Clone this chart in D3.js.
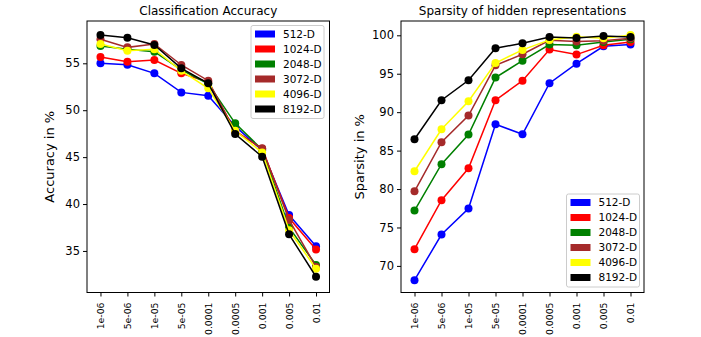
<!DOCTYPE html>
<html><head><meta charset="utf-8">
<script src="https://cdn.jsdelivr.net/npm/d3@7"></script>
<style>body{margin:0;background:#fff}svg{display:block;font-family:"DejaVu Sans",sans-serif}</style>
</head><body><svg id="c" width="701" height="337"></svg>
<script>
const categories = ["1e-06","5e-06","1e-05","5e-05","0.0001","0.0005","0.001","0.005","0.01"];
const seriesNames = ["512-D","1024-D","2048-D","3072-D","4096-D","8192-D"];
const seriesColors = ["blue","red","green","brown","yellow","black"];
const accTicks = [35,40,45,50,55];
const spTicks = [70,75,80,85,90,95,100];

const acc512  = [55.0, 54.85, 53.93, 51.9, 51.55, 48.3, 45.7, 38.83, 35.5];
const acc1024 = [55.67, 55.17, 55.35, 53.93, 53.0, 47.8, 45.9, 38.5, 35.15];
const acc2048 = [56.84, 56.5, 56.24, 54.3, 52.8, 48.6, 45.8, 37.5, 33.5];
const acc3072 = [57.56, 56.7, 57.06, 54.82, 53.15, 47.7, 45.95, 38.3, 33.3];
const acc4096 = [57.06, 56.35, 56.5, 54.2, 52.33, 47.8, 45.5, 37.2, 33.1];
const acc8192 = [58.02, 57.73, 56.95, 54.47, 52.87, 47.46, 45.04, 36.77, 32.25];

const sp512  = [68.14, 74.08, 77.46, 88.43, 87.13, 93.76, 96.3, 98.57, 98.79];
const sp1024 = [72.17, 78.54, 82.7, 91.55, 94.1, 98.14, 97.49, 98.7, 99.13];
const sp2048 = [77.2, 83.23, 87.08, 94.5, 96.7, 98.8, 98.7, 99.13, 99.5];
const sp3072 = [79.71, 86.09, 89.56, 96.1, 97.53, 99.35, 99.2, 99.3, 99.6];
const sp4096 = [82.31, 87.78, 91.42, 96.4, 98.1, 99.4, 99.8, 99.6, 100.04];
const sp8192 = [86.48, 91.55, 94.15, 98.31, 98.96, 99.78, 99.65, 99.91, 99.78];

const accData = [acc512, acc1024, acc2048, acc3072, acc4096, acc8192];
const spData  = [sp512, sp1024, sp2048, sp3072, sp4096, sp8192];

const svg = d3.select("#c");

function panel(opt) {
  const {x0, x1, y0, y1, domain, ticks, data, title, ylabel, ylabX, legend} = opt;
  const g = svg.append("g");
  const x = d3.scalePoint().domain(categories).range([x0, x1]).padding(0.5);
  const y = d3.scaleLinear().domain(domain).range([y1, y0]);

  data.forEach((vals, i) => {
    const pts = vals.map((v, j) => [x(categories[j]), y(v)]);
    g.append("path").attr("d", d3.line()(pts)).attr("fill","none")
      .attr("stroke", seriesColors[i]).attr("stroke-width", 1.5);
    g.selectAll(null).data(pts).enter().append("circle")
      .attr("cx", d => d[0]).attr("cy", d => d[1]).attr("r", 4)
      .attr("fill", seriesColors[i]);
  });

  const ax = g.append("g").attr("transform", `translate(0,${y1})`)
    .call(d3.axisBottom(x).tickSize(4).tickSizeOuter(0));
  ax.select(".domain").remove();
  ax.selectAll("text").attr("transform","rotate(-90)")
    .attr("x", -10).attr("y", 0).attr("dy","0.35em")
    .style("text-anchor","end").attr("font-size", 9.3)
    .attr("font-family","DejaVu Sans").attr("fill","#000");
  const ay = g.append("g").attr("transform", `translate(${x0},0)`)
    .call(d3.axisLeft(y).tickValues(ticks).tickSize(4).tickSizeOuter(0));
  ay.select(".domain").remove();
  ay.selectAll("text").attr("font-size", 11.5).attr("font-family","DejaVu Sans").attr("fill","#000").attr("x",-7);

  g.append("rect").attr("x", x0).attr("y", y0).attr("width", x1 - x0).attr("height", y1 - y0)
    .attr("fill","none").attr("stroke","#000").attr("stroke-width",1);

  g.append("text").attr("x", (x0 + x1) / 2).attr("y", y0 - 6).attr("text-anchor","middle")
    .attr("font-size", 12).text(title);
  g.append("text").attr("transform", `translate(${ylabX},${(y0 + y1) / 2}) rotate(-90)`)
    .attr("text-anchor","middle").attr("font-size", 13).text(ylabel);

  const lg = g.append("g").attr("transform", `translate(${legend.x},${legend.y})`);
  lg.append("rect").attr("x",0).attr("y",0).attr("width", legend.w).attr("height", 93)
    .attr("rx",2).attr("fill","#fff").attr("fill-opacity",0.8).attr("stroke","#ccc");
  seriesNames.forEach((n, i) => {
    lg.append("rect").attr("x", 4).attr("y", 5 + i * 15).attr("width", 20).attr("height", 7)
      .attr("fill", seriesColors[i]);
    lg.append("text").attr("x", 32).attr("y", 8.5 + i * 15).attr("dy","0.35em")
      .attr("font-size", 10.5).text(n);
  });
}

panel({x0: 87, x1: 329.5, y0: 21, y1: 292.5, domain: [30.57, 59.51], ticks: accTicks,
  data: accData, title: "Classification Accuracy", ylabel: "Accuracy in %", ylabX: 54,
  legend: {x: 251, y: 25.5, w: 73}});
panel({x0: 401, x1: 644, y0: 21, y1: 292.5, domain: [66.54, 101.86], ticks: spTicks,
  data: spData, title: "Sparsity of hidden representations", ylabel: "Sparsity in %", ylabX: 364,
  legend: {x: 566.5, y: 194, w: 73}});
</script></body></html>
